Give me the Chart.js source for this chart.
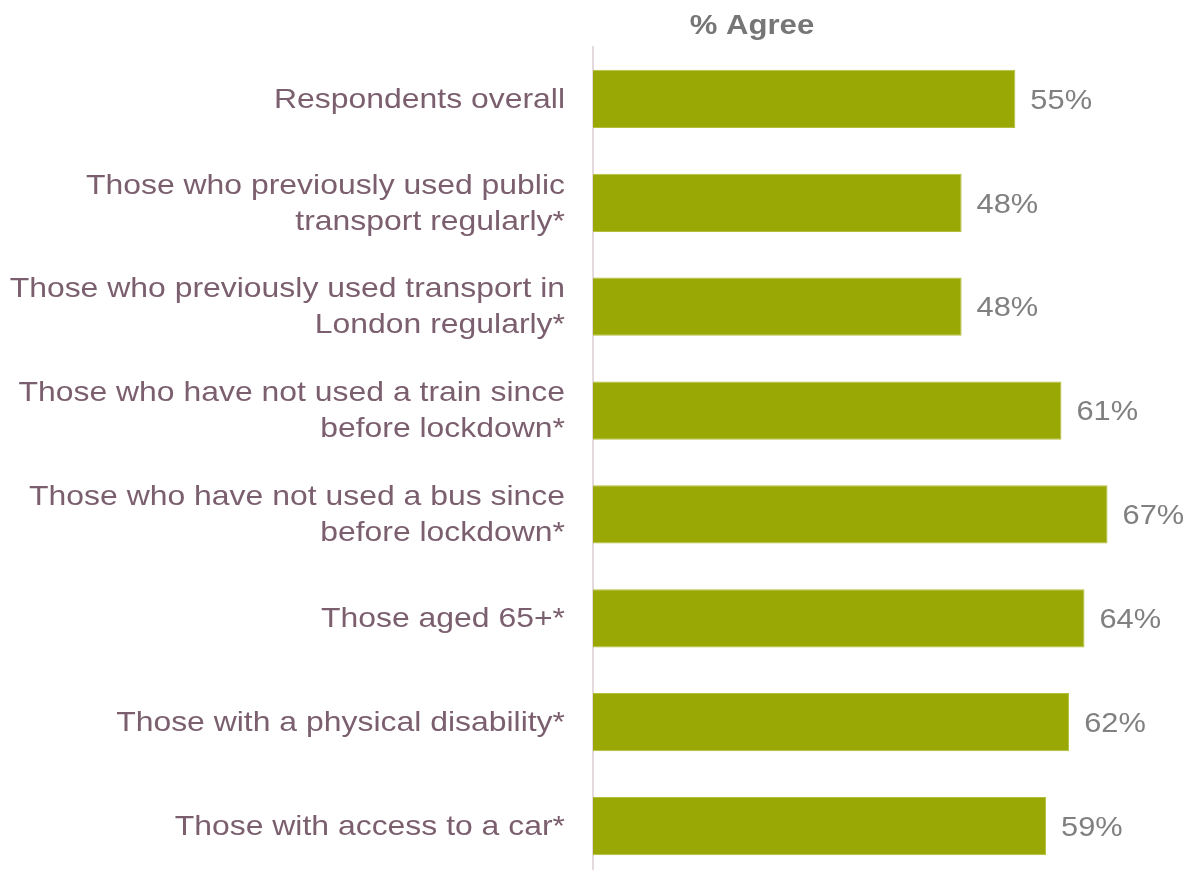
<!DOCTYPE html>
<html>
<head>
<meta charset="utf-8">
<script src="https://cdn.jsdelivr.net/npm/chart.js@4/dist/chart.umd.min.js"></script>
<style>
html,body{margin:0;padding:0;background:#fff;overflow:hidden;}
#wrap{position:relative;width:1202px;height:880px;}
</style>
</head>
<body>
<div id="wrap"><canvas id="c"></canvas></div>
<script>
const categories = [
  ["Respondents overall"],
  ["Those who previously used public", "transport regularly*"],
  ["Those who previously used transport in", "London regularly*"],
  ["Those who have not used a train since", "before lockdown*"],
  ["Those who have not used a bus since", "before lockdown*"],
  ["Those aged 65+*"],
  ["Those with a physical disability*"],
  ["Those with access to a car*"]
];
const agreeValues = [55, 48, 48, 61, 67, 64, 62, 59];
const chartTitle = "% Agree";

const FONT = "'Liberation Sans', Arial, sans-serif";

function stretchedText(ctx, text, x, y, sx, align) {
  ctx.save();
  ctx.translate(x, y);
  ctx.scale(sx, 1);
  ctx.textAlign = align;
  ctx.fillText(text, 0, 0);
  ctx.restore();
}

const labelPlugin = {
  id: 'labels',
  afterDraw(chart) {
    const ctx = chart.ctx;
    const meta = chart.getDatasetMeta(0);
    const yScale = chart.scales.y;
    ctx.save();
    ctx.textBaseline = "middle";
    // category labels
    ctx.font = "28px " + FONT;
    ctx.fillStyle = "#7b5f6e";
    const lh = 36;
    categories.forEach((lines, i) => {
      const yc = yScale.getPixelForValue(i);
      const x = yScale.right - 28;
      lines.forEach((ln, k) => {
        const y = yc + (k - (lines.length - 1) / 2) * lh + 1;
        stretchedText(ctx, ln, x, y, 1.14, 'right');
      });
    });
    // value labels
    ctx.font = "28px " + FONT;
    ctx.fillStyle = "#808080";
    meta.data.forEach((bar, i) => {
      stretchedText(ctx, agreeValues[i] + "%", bar.x + 15, bar.y + 2, 1.1, 'left');
    });
    // title
    ctx.font = "bold 28px " + FONT;
    ctx.fillStyle = "#767676";
    stretchedText(ctx, chartTitle, 752, 26, 1.11, 'center');
    ctx.restore();
  }
};

new Chart(document.getElementById('c'), {
  type: 'bar',
  data: {
    labels: categories,
    datasets: [{
      data: agreeValues,
      backgroundColor: '#9aa806',
      borderColor: '#b3bf3a',
      borderWidth: 1,
      barPercentage: 0.56,
      categoryPercentage: 1
    }]
  },
  options: {
    indexAxis: 'y',
    responsive: true,
    maintainAspectRatio: false,
    animation: false,
    layout: { padding: { top: 47, bottom: 2, left: 0, right: 10 } },
    plugins: { legend: { display: false }, tooltip: { enabled: false }, title: { display: false } },
    scales: {
      x: { display: false, min: 0, max: 78 },
      y: {
        afterFit(scale) { scale.width = 593; },
        grid: { display: false, drawTicks: false },
        border: { display: true, color: '#e3d9df', width: 2 },
        ticks: { display: false }
      }
    }
  },
  plugins: [labelPlugin]
});
</script>
</body>
</html>
